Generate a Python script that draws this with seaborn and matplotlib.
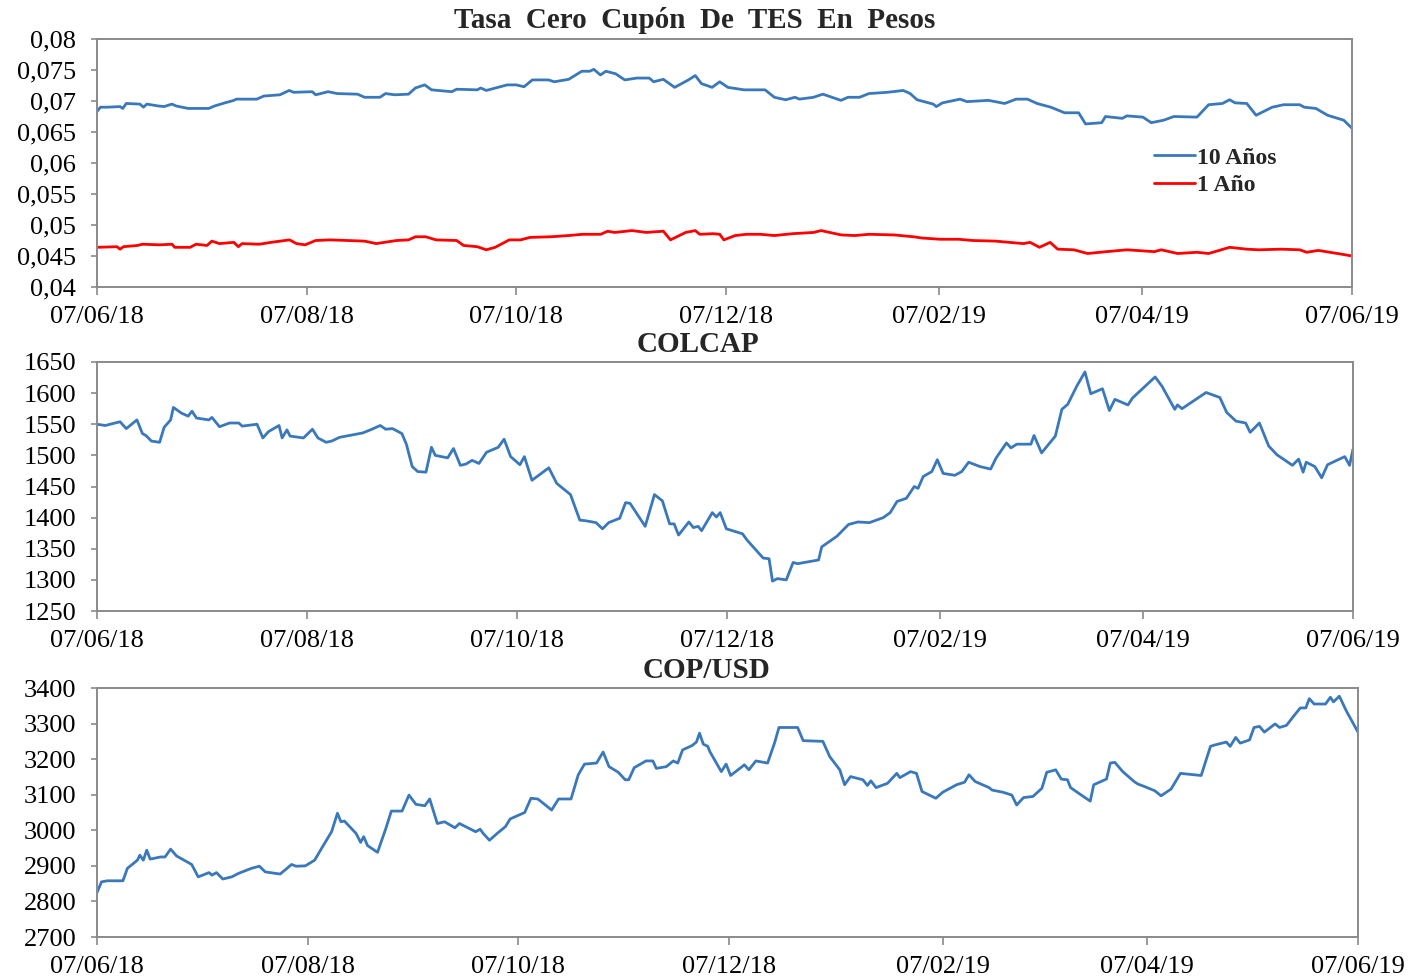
import numpy as np
import pandas as pd
import matplotlib
matplotlib.use("Agg")
import matplotlib.pyplot as plt
import seaborn as sns

START = pd.Timestamp("2018-06-07")
END = pd.Timestamp("2019-06-07")

# ---- TES zero-coupon rates (days since 07/06/18, rate) ----
tes10_days = [0, 1, 3, 6.7, 7.5, 8.5, 12.5, 13.5, 14.5, 17.8, 19.5, 21.8, 23, 26.5, 32.5, 34.2,
              37.2, 39.8, 40.5, 46.5, 48.5, 53.2, 55.9, 57.2, 62.6, 63.6, 67.2, 69.9, 75.8, 77.8,
              82.3, 83.9, 86.6, 90.6, 92.6, 95.3, 97.3, 103.2, 104.6, 110.6, 111.6, 113.2, 116.6,
              119.3, 121.9, 124.2, 126.6, 131.3, 133, 137.2, 141, 143.3, 144.5, 146.4, 148, 150.8,
              153.5, 157, 160.6, 161.9, 164.7, 168, 172, 174, 175.8, 178.9, 181.1, 183.5, 188.2,
              194.3, 197, 200.3, 203, 204.3, 208.4, 211.1, 216.4, 218.4, 221.8, 224.5, 229.8,
              234.5, 236.5, 238.5, 243.2, 244.1, 245.9, 251, 253, 259.3, 264, 267.3, 270.6, 273.4,
              277.4, 281.4, 285.5, 287.5, 292.2, 293.3, 298.2, 299.5, 304.2, 306.6, 310.2, 313.2,
              319.9, 323.3, 327.3, 329.4, 331, 334.4, 337.1, 341.8, 345.1, 349.8, 351.1, 354.5,
              357.9, 362.6, 365]
tes10_vals = [0.0683, 0.0690, 0.0690, 0.0691, 0.0688, 0.0696, 0.0695, 0.0690, 0.0695, 0.0692,
              0.0691, 0.0695, 0.0692, 0.0688, 0.0688, 0.0692, 0.0697, 0.0701, 0.0703, 0.0703,
              0.0708, 0.0710, 0.0717, 0.0714, 0.0715, 0.0710, 0.0715, 0.0712, 0.0711, 0.0706,
              0.0706, 0.0712, 0.0710, 0.0711, 0.0721, 0.0726, 0.0718, 0.0715, 0.0719, 0.0718,
              0.0721, 0.0717, 0.0722, 0.0726, 0.0726, 0.0723, 0.0734, 0.0734, 0.0731, 0.0735,
              0.0748, 0.0748, 0.0751, 0.0742, 0.0748, 0.0744, 0.0734, 0.0737, 0.0737, 0.0731,
              0.0735, 0.0722, 0.0734, 0.0741, 0.0728, 0.0722, 0.0731, 0.0722, 0.0718, 0.0718,
              0.0706, 0.0702, 0.0706, 0.0703, 0.0706, 0.0711, 0.0701, 0.0706, 0.0706, 0.0712,
              0.0714, 0.0717, 0.0712, 0.0702, 0.0695, 0.0691, 0.0697, 0.0703, 0.0699, 0.0701,
              0.0696, 0.0703, 0.0703, 0.0696, 0.0690, 0.0681, 0.0681, 0.0663, 0.0665, 0.0675,
              0.0672, 0.0676, 0.0674, 0.0665, 0.0669, 0.0675, 0.0674, 0.0694, 0.0696, 0.0702,
              0.0697, 0.0696, 0.0677, 0.0690, 0.0694, 0.0694, 0.0690, 0.0688, 0.0677, 0.0669,
              0.0656]

tes1_days = [0, 5.8, 6.7, 7.7, 11.8, 13.2, 18.2, 21.8, 22.6, 27.1, 28.8, 32, 33.4, 35.6, 39.8,
             41.1, 42.2, 47.2, 50.6, 56, 58, 60.5, 63.6, 67.8, 77.8, 81.2, 87.1, 90.6, 92.6, 95.6,
             98.6, 104.6, 106.6, 110.6, 113.2, 115.8, 119.9, 123.2, 125.9, 131.9, 137.2, 141.2,
             146.5, 148.5, 150.5, 155.6, 159.7, 164.7, 166.8, 171.2, 174, 175.3, 179.2, 181.1,
             182.3, 185.6, 188.9, 192.9, 197, 202.3, 208.4, 210.6, 216.4, 220.4, 224.5, 231.8,
             237.5, 239.9, 245.2, 250.6, 254.6, 261.3, 269.4, 271.4, 274.1, 277.2, 279.4, 284.1,
             288.1, 293.5, 299.5, 307.5, 309.5, 314.3, 319.9, 323.3, 329.4, 334.4, 337.8, 344.5,
             349.8, 351.8, 355.2, 361.9, 365]
tes1_vals = [0.0464, 0.0465, 0.0461, 0.0465, 0.0467, 0.0469, 0.0468, 0.0469, 0.0464, 0.0464,
             0.0469, 0.0467, 0.0474, 0.0470, 0.0472, 0.0465, 0.0470, 0.0469, 0.0472, 0.0476,
             0.0470, 0.0468, 0.0475, 0.0476, 0.0474, 0.0470, 0.0475, 0.0476, 0.0481, 0.0481,
             0.0476, 0.0475, 0.0467, 0.0465, 0.0460, 0.0464, 0.0476, 0.0476, 0.0480, 0.0481,
             0.0483, 0.0485, 0.0485, 0.0490, 0.0488, 0.0491, 0.0488, 0.0490, 0.0476, 0.0488,
             0.0491, 0.0485, 0.0486, 0.0485, 0.0476, 0.0483, 0.0485, 0.0485, 0.0483, 0.0486,
             0.0488, 0.0491, 0.0484, 0.0483, 0.0485, 0.0484, 0.0481, 0.0479, 0.0477, 0.0477,
             0.0475, 0.0474, 0.0470, 0.0472, 0.0464, 0.0472, 0.0461, 0.0460, 0.0454, 0.0457,
             0.0460, 0.0457, 0.0460, 0.0454, 0.0456, 0.0454, 0.0464, 0.0461, 0.0460, 0.0461,
             0.0460, 0.0456, 0.0459, 0.0453, 0.0450]

# ---- COLCAP index ----
colcap_days = [0, 2.4, 6.7, 8.5, 11.6, 13.2, 14.2, 15.8, 18.2, 19.5, 21.4, 22.2, 24.5, 26.5, 27.6,
               28.9, 32.5, 33.4, 35.6, 38.5, 41.2, 42.2, 46.5, 48.2, 49.8, 52.9, 53.8, 55.2, 56.1,
               60, 62.6, 64.2, 66.6, 68.2, 70.5, 77.2, 79.9, 82.3, 83.9, 85.9, 88.6, 89.9, 91.6,
               93.2, 95.6, 97.2, 98.3, 101.9, 103.6, 105.6, 107.2, 109, 111, 113.2, 116.6, 118.3,
               120.2, 122.9, 124.2, 126.4, 131.3, 133.6, 137.6, 140.3, 142, 145, 146.9, 148.7,
               151.9, 153.6, 154.9, 159.3, 162, 164.3, 166.4, 167.7, 169, 172, 173.3, 174.7, 175.7,
               178.8, 180, 181.1, 182.9, 187.6, 188.9, 193.6, 195.3, 196.3, 197.7, 200.3, 202.3,
               203.6, 209.7, 210.6, 215, 218.4, 221.1, 224.5, 228.5, 230.5, 232.5, 235.2, 237.5,
               238.6, 240.1, 242.6, 244.2, 245.9, 249.3, 251.3, 253.3, 256.6, 259.7, 261.3, 264.3,
               265.6, 267.3, 271.4, 272.3, 274.5, 278.5, 280.4, 282.1, 284.8, 287.1, 288.8, 292.2,
               294.2, 295.8, 299.6, 300.9, 304.2, 307.5, 309.5, 313.2, 314, 315.3, 322.3, 326.3,
               328.3, 331, 333.8, 335.1, 337.8, 340.5, 342.9, 347.4, 349.2, 350.5, 351.4, 353.9,
               355.9, 357.6, 362.6, 364, 365]
colcap_vals = [1550, 1548, 1554, 1543, 1557, 1535, 1532, 1523, 1521, 1545, 1557, 1577, 1568, 1563,
               1571, 1560, 1557, 1561, 1546, 1552, 1552, 1547, 1550, 1528, 1538, 1548, 1528, 1541,
               1531, 1528, 1542, 1528, 1521, 1523, 1529, 1536, 1542, 1548, 1542, 1543, 1535, 1518,
               1482, 1474, 1473, 1513, 1500, 1496, 1511, 1484, 1486, 1492, 1487, 1505, 1513, 1526,
               1498, 1485, 1498, 1460, 1480, 1455, 1437, 1396, 1395, 1392, 1382, 1392, 1399, 1424,
               1423, 1386, 1437, 1427, 1390, 1390, 1372, 1393, 1384, 1386, 1379, 1408, 1401, 1408,
               1382, 1374, 1364, 1335, 1334, 1298, 1302, 1300, 1328, 1326, 1332, 1353, 1370, 1389,
               1393, 1392, 1400, 1408, 1426, 1431, 1450, 1447, 1466, 1474, 1493, 1471, 1468, 1474,
               1489, 1482, 1478, 1496, 1520, 1512, 1518, 1518, 1532, 1504, 1531, 1574, 1582, 1612,
               1634, 1599, 1607, 1572, 1590, 1581, 1592, 1609, 1626, 1611, 1574, 1581, 1575, 1601,
               1593, 1569, 1555, 1552, 1537, 1552, 1515, 1501, 1484, 1494, 1473, 1489, 1482, 1464,
               1485, 1498, 1484, 1510]

# ---- COP/USD exchange rate ----
cop_days = [0, 1.3, 3, 7.5, 8.8, 11.7, 12.4, 13.4, 14.4, 15.4, 18.4, 19.7, 21.3, 23, 27.4, 29.3,
            32.4, 33.3, 34.6, 36.4, 39, 41, 44.7, 47, 48.7, 53, 55, 56.3, 57.6, 60.3, 63, 65, 67.9,
            69.6, 70.6, 71.6, 75, 76.3, 77.2, 78.3, 81.2, 83.6, 85.2, 88.3, 90.3, 92.3, 94.9, 96.3,
            98.5, 100.6, 103.6, 104.9, 109.6, 110.9, 111.8, 113.6, 115.8, 118.2, 119.6, 123.8,
            125.6, 127.6, 131.6, 133.6, 137.2, 139.3, 141.1, 144.6, 146.5, 148.2, 150.9, 152.9,
            153.9, 155.5, 158.9, 160.9, 161.9, 164.8, 166.8, 168.1, 169.5, 172.2, 173.5, 174.4,
            175.5, 176.8, 177.4, 180.7, 182.1, 183.4, 187.4, 188.7, 190.7, 194.1, 196.1, 197.4,
            202.8, 204.4, 210.1, 212.1, 215, 216.4, 218.1, 221.7, 223, 224, 225.5, 228.8, 231.5,
            232.4, 235.5, 237.2, 238.8, 242.8, 244.8, 248.8, 251.1, 252.4, 254.2, 258.2, 259.1,
            262.2, 264.8, 266.2, 268.2, 270.9, 273.5, 274.9, 277.5, 279.1, 280.9, 281.8, 284.9,
            287.5, 288.5, 292.2, 293.3, 294.6, 296.9, 300.2, 301.3, 303.2, 306.2, 308, 310.9,
            313.6, 319.6, 322.3, 323.6, 326.9, 328, 329.6, 330.9, 333.6, 334.9, 336.5, 337.9, 341,
            342.3, 344.3, 346.3, 348.3, 349.9, 350.9, 352.3, 355.6, 357, 357.9, 359.6, 361.6,
            363.6, 365]
cop_vals = [2825, 2855, 2858, 2858, 2893, 2916, 2930, 2916, 2944, 2919, 2925, 2925, 2947, 2928,
            2904, 2869, 2881, 2874, 2881, 2863, 2869, 2879, 2893, 2899, 2883, 2877, 2893, 2904,
            2899, 2900, 2916, 2949, 2996, 3048, 3024, 3026, 2991, 2966, 2982, 2957, 2938, 3005,
            3054, 3054, 3099, 3073, 3069, 3088, 3019, 3024, 3007, 3019, 2996, 3003, 2991, 2972,
            2991, 3010, 3032, 3050, 3090, 3088, 3057, 3088, 3088, 3156, 3186, 3189, 3220, 3179,
            3163, 3142, 3142, 3176, 3195, 3195, 3174, 3179, 3195, 3189, 3226, 3238, 3248, 3273,
            3242, 3236, 3221, 3165, 3186, 3154, 3184, 3170, 3195, 3189, 3245, 3289, 3289, 3252,
            3250, 3207, 3170, 3128, 3151, 3142, 3126, 3139, 3120, 3132, 3160, 3148, 3165, 3160,
            3109, 3090, 3107, 3128, 3135, 3156, 3137, 3120, 3113, 3107, 3099, 3071, 3092, 3095,
            3118, 3163, 3170, 3144, 3142, 3120, 3099, 3082, 3128, 3144, 3189, 3191, 3165, 3137,
            3130, 3123, 3111, 3097, 3116, 3160, 3154, 3236, 3240, 3248, 3236, 3261, 3245, 3254,
            3289, 3292, 3276, 3299, 3289, 3295, 3320, 3344, 3344, 3370, 3355, 3355, 3374, 3361,
            3377, 3336, 3301, 3276]

# ---- axis labels ----
date_ticks = ["2018-06-07", "2018-08-07", "2018-10-07", "2018-12-07",
              "2019-02-07", "2019-04-07", "2019-06-07"]
date_labels = ["07/06/18", "07/08/18", "07/10/18", "07/12/18", "07/02/19", "07/04/19", "07/06/19"]
tes_ticks = [0.04, 0.045, 0.05, 0.055, 0.06, 0.065, 0.07, 0.075, 0.08]
tes_labels = ["0,04", "0,045", "0,05", "0,055", "0,06", "0,065", "0,07", "0,075", "0,08"]
colcap_ticks = [1250, 1300, 1350, 1400, 1450, 1500, 1550, 1600, 1650]
cop_ticks = [2700, 2800, 2900, 3000, 3100, 3200, 3300, 3400]

BLUE = "#3A78BC"
RED = "#FF0000"
FRAME_GREY = "#8a8a8a"
LW = 2.0

sns.set_style("white")
plt.rcParams["font.family"] = ["Liberation Serif", "DejaVu Serif"]
plt.rcParams["lines.solid_joinstyle"] = "round"
plt.rcParams["lines.solid_capstyle"] = "round"


def to_dates(days):
    return START + pd.to_timedelta(np.asarray(days, dtype=float), unit="D")


W, H = 1420, 977
fig = plt.figure(figsize=(W / 100, H / 100), dpi=100)


def px_axes(left, top, right, bottom):
    return fig.add_axes([left / W, 1 - bottom / H, (right - left) / W, (bottom - top) / H])


def style_axes(ax, yticks, ylabels):
    ax.set_xlim(START, END)
    ax.set_xticks(pd.to_datetime(date_ticks))
    ax.set_xticklabels(date_labels)
    ax.set_yticks(yticks)
    ax.set_yticklabels(ylabels)
    ax.set_ylim(yticks[0], yticks[-1])
    ax.set_xlabel("")
    ax.set_ylabel("")
    for sp in ax.spines.values():
        sp.set_visible(True)
        sp.set_color(FRAME_GREY)
        sp.set_linewidth(1.4)
    ax.tick_params(axis="x", direction="out", length=6, width=1.2, color=FRAME_GREY,
                   pad=8, labelsize=19, labelcolor="black", bottom=True)
    ax.tick_params(axis="y", direction="out", length=4, width=1.2, color=FRAME_GREY,
                   pad=11, labelsize=19, labelcolor="black", left=True)
    ax.grid(False)


# Panel 1: TES zero-coupon curve
ax1 = px_axes(97, 39, 1352, 287)
tes = pd.concat([
    pd.DataFrame({"fecha": to_dates(tes10_days), "tasa": tes10_vals, "serie": "10 Años"}),
    pd.DataFrame({"fecha": to_dates(tes1_days), "tasa": tes1_vals, "serie": "1 Año"}),
])
sns.lineplot(data=tes, x="fecha", y="tasa", hue="serie",
             palette={"10 Años": BLUE, "1 Año": RED}, linewidth=LW, ax=ax1)
style_axes(ax1, tes_ticks, tes_labels)
leg = ax1.legend(loc="upper left", bbox_to_anchor=(0.825, 0.65), frameon=False,
                 handlelength=1.75, handletextpad=0.1, labelspacing=0.25,
                 prop={"family": "Liberation Serif", "weight": "bold", "size": 17})
for line in leg.get_lines():
    line.set_linewidth(LW)

# Panel 2: COLCAP
ax2 = px_axes(97, 362, 1353, 611)
colcap = pd.DataFrame({"fecha": to_dates(colcap_days), "valor": colcap_vals})
sns.lineplot(data=colcap, x="fecha", y="valor", color=BLUE, linewidth=LW, ax=ax2)
style_axes(ax2, colcap_ticks, [str(v) for v in colcap_ticks])

# Panel 3: COP/USD
ax3 = px_axes(97, 688, 1358, 937)
cop = pd.DataFrame({"fecha": to_dates(cop_days), "valor": cop_vals})
sns.lineplot(data=cop, x="fecha", y="valor", color=BLUE, linewidth=LW, ax=ax3)
style_axes(ax3, cop_ticks, [str(v) for v in cop_ticks])

title_kw = dict(ha="center", va="center", fontsize=21, fontweight="bold",
                family="Liberation Serif")
fig.text(695 / W, 1 - 21 / H, "Tasa  Cero  Cupón  De  TES  En  Pesos", **title_kw)
fig.text(698 / W, 1 - 345 / H, "COLCAP", **title_kw)
fig.text(706 / W, 1 - 670 / H, "COP/USD", **title_kw)

fig.savefig("out.png", dpi=100, facecolor="white")
